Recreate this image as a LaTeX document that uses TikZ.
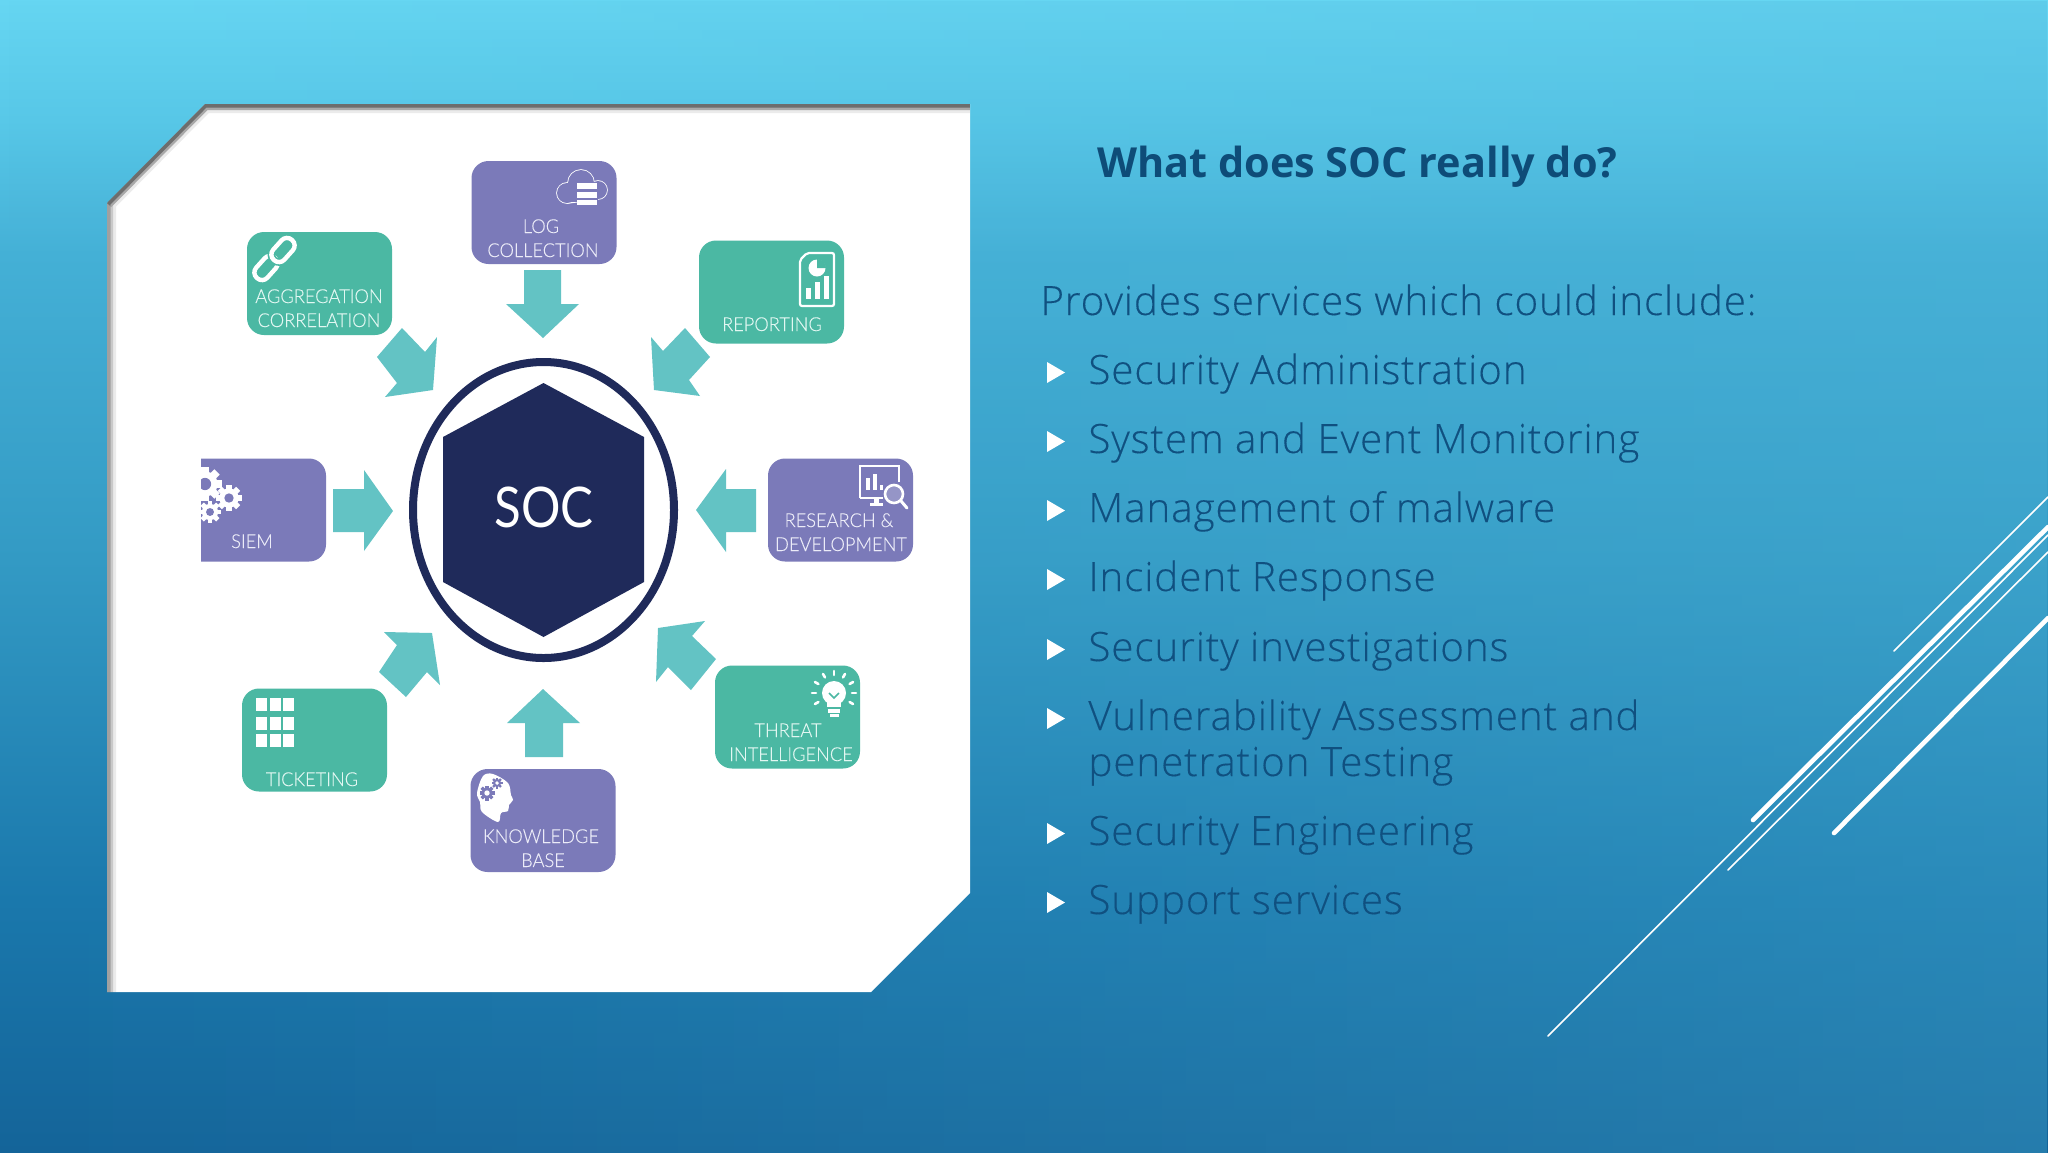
\documentclass[tikz,border=0pt]{standalone}
\usepackage{fontspec}
\usetikzlibrary{calc,fadings}
\newfontfamily\bodyfont{Open Sans Light}[LetterSpace=2.2,FakeBold=0.2]
\newfontfamily\titlefont{Open Sans}
\newfontfamily\labelfont{Lato Light}[FakeStretch=0.95,FakeBold=0.12]
\newfontfamily\socfont{Lato}[FakeStretch=0.88]
\definecolor{bgA}{HTML}{146499}
\definecolor{bgB}{HTML}{1A78AC}
\definecolor{bgC}{HTML}{339AC4}
\definecolor{bgD}{HTML}{44B0D6}
\definecolor{bgF}{HTML}{58C8E8}
\definecolor{bgE}{HTML}{66D6F2}
\definecolor{bgLight}{HTML}{4FB5DA}
\definecolor{purpleBox}{RGB}{123,122,185}
\definecolor{tealBox}{RGB}{75,184,163}
\definecolor{arrowTeal}{RGB}{99,195,196}
\definecolor{navy}{RGB}{31,42,90}
\definecolor{titleInk}{RGB}{14,76,120}
\definecolor{bodyInk}{RGB}{16,80,128}
\definecolor{lblP}{RGB}{236,236,248}
\definecolor{lblT}{RGB}{226,247,242}
\pgfdeclareverticalshading{slidebg}{100bp}{color(0bp)=(bgA); color(25bp)=(bgA); color(35.9bp)=(bgB); color(50.7bp)=(bgC); color(64bp)=(bgD); color(69.8bp)=(bgF); color(75bp)=(bgE); color(100bp)=(bgE)}
\tikzset{
  panel/.style={rectangle,rounded corners=8.5pt,minimum width=72.5pt,minimum height=51.5pt,inner sep=0pt,draw=none},
  pbox/.style={panel,fill=purpleBox},
  tbox/.style={panel,fill=tealBox},
  lbl/.style={anchor=base,inner sep=0pt,font=\labelfont\fontsize{9.6}{11}\selectfont},
  lblp/.style={lbl,text=lblP},
  lblt/.style={lbl,text=lblT},
  blockarrow/.style={fill=arrowTeal,draw=none},
  bodyline/.style={anchor=base west,inner sep=0pt,text=bodyInk,font=\bodyfont\fontsize{20.2}{24}\selectfont},
  bulletmark/.style={fill=white,draw=none},
  rule/.style={draw=white,line cap=round},
  innershadow/.style={draw=black},
}
\newcommand{\gearicon}[5]{%
  \foreach \a in {0,45,...,315}{\fill[#4,shift={(#1,#2)},rotate=\a] (-0.22*#3,0) rectangle (0.22*#3,#3);}
  \fill[#4] (#1,#2) circle ({0.74*#3});
  \fill[#5] (#1,#2) circle ({0.36*#3});
}
\begin{document}
\begin{tikzpicture}[x=0.5pt,y=-0.5pt]
\useasboundingbox (0,0) rectangle (2048,1152);
\shade[shading=slidebg] (0,0) rectangle (2048,1152);
\fill[bgLight,opacity=.30,path fading=west] (0,0) rectangle (2048,1152);

% decorative rules
\draw[rule,line width=2.3pt] (1753,820) -- (2048,527);
\draw[rule,line width=2.3pt] (1834,833) -- (2048,618);
\draw[rule,line width=0.8pt] (1894,651) -- (2048,497);
\draw[rule,line width=0.8pt] (1728,870) -- (2048,552);
\draw[rule,line width=0.8pt] (1548,1036) -- (2048,535);

% white panel
\fill[white] (205,104) -- (970,104) -- (970,893) -- (871,992) -- (107,992) -- (107,203) -- cycle;
\begin{scope}
  \clip (205,104) -- (970,104) -- (970,893) -- (871,992) -- (107,992) -- (107,203) -- cycle;
  \draw[innershadow,opacity=.08,line width=9pt] (107,992) -- (107,203) -- (205,104) -- (970,104);
  \draw[innershadow,opacity=.14,line width=6pt] (107,992) -- (107,203) -- (205,104) -- (970,104);
  \draw[innershadow,opacity=.20,line width=3.5pt] (107,992) -- (107,203) -- (205,104) -- (970,104);
  \draw[innershadow,opacity=.16,line width=6pt] (107,203) -- (205,104) -- (970,104);
  \draw[innershadow,opacity=.18,line width=3.5pt] (107,203) -- (205,104) -- (970,104);
\end{scope}

% centre
\draw[navy,line width=4pt] (543.5,510) ellipse [x radius=130.5,y radius=148];
\fill[navy] (543.5,383) -- (644,437) -- (644,582) -- (543.5,637) -- (443,582) -- (443,437) -- cycle;
\node[anchor=base,inner sep=0pt,text=white,font=\socfont\fontsize{28}{30}\selectfont] (soc) at (544,527) {SOC};

% boxes
\node[pbox] (logbox) at (544,212.5) {};
\node[tbox] (aggbox) at (319.5,283.5) {};
\node[tbox] (repbox) at (771.5,292) {};
\node[pbox] (rdbox) at (840.5,510) {};
\node[tbox] (tickbox) at (314.5,740) {};
\node[pbox] (kbbox) at (543,820.5) {};
\node[tbox] (thrbox) at (787.5,717) {};
\begin{scope}
  \clip (201,440) rectangle (340,580);
  \node[pbox] (siembox) at (253.5,510) {};
  \gearicon{205}{484}{17}{white}{purpleBox}
  \gearicon{229}{498}{13}{white}{purpleBox}
  \gearicon{210}{512}{11}{white}{purpleBox}
\end{scope}

% block arrows
\fill[blockarrow] (524,270) -- (561,270) -- (561,304) -- (579,304) -- (543,338) -- (506,304) -- (524,304) -- cycle;
\fill[blockarrow] (333,489) -- (364,489) -- (364,470) -- (393,511) -- (364,551) -- (364,532) -- (333,532) -- cycle;
\fill[blockarrow] (756,489) -- (726,489) -- (726,469) -- (696,510) -- (726,552) -- (726,532) -- (756,532) -- cycle;
\fill[blockarrow] (543,689) -- (580,723) -- (563,723) -- (563,757) -- (525,757) -- (525,723) -- (507,723) -- cycle;
\fill[blockarrow] (402,328) -- (425,352) -- (437,337) -- (433,390) -- (385,397) -- (397,383) -- (377,357) -- cycle;
\fill[blockarrow] (685,328) -- (710,357) -- (689,380) -- (700,396) -- (654,390) -- (651,337) -- (663,351) -- cycle;
\fill[blockarrow] (384,632) -- (432,633) -- (440,685) -- (427,672) -- (406,697) -- (379,672) -- (397,645) -- cycle;
\fill[blockarrow] (658,628) -- (705,621) -- (692,636) -- (716,659) -- (691,690) -- (668,667) -- (656,682) -- cycle;

% chain icon
\draw[white,line width=2.2pt,rounded corners=3.6pt,shift={(266,268)},rotate=48] (-13.5,-7.5) rectangle (13.5,7.5);
\draw[tealBox,line width=3.8pt,rounded corners=3.6pt,shift={(283,250)},rotate=48] (-13.5,-7.5) rectangle (13.5,7.5);
\draw[white,line width=2.2pt,rounded corners=3.6pt,shift={(283,250)},rotate=48] (-13.5,-7.5) rectangle (13.5,7.5);

% cloud icon
\foreach \cx/\cy/\cr in {567/193/10,581/183/13,598/190/9}{\draw[white,line width=.8pt] (\cx,\cy) circle (\cr);}
\draw[white,line width=.8pt] (567,203) -- (598,199);
\foreach \cx/\cy/\cr in {567/193/10,581/183/13,598/190/9}{\fill[purpleBox] (\cx,\cy) circle (\cr);}
\fill[purpleBox] (567,185) rectangle (598,202);
\fill[white] (577,183) rectangle (597,189);
\fill[white] (577,191.5) rectangle (597,197.5);
\fill[white] (577,199.5) rectangle (597,205);

% report icon
\draw[white,line width=1.1pt,rounded corners=1pt] (807,253) -- (834,253) -- (834,306) -- (800,306) -- (800,260) -- cycle;
\fill[white] (817,268) circle (8.5);
\fill[tealBox] (817,268) -- (817,259) arc (-90:0:9) -- cycle;
\fill[white] (806,288) rectangle (811,299);
\fill[white] (815,282) rectangle (820,299);
\fill[white] (824,276) rectangle (829,299);

% research icon
\draw[white,line width=1.2pt] (860,498) -- (860,466) -- (899,466) -- (899,482);
\draw[white,line width=1.2pt] (860,498) -- (883,498);
\fill[white] (866,478) rectangle (869.5,490);
\fill[white] (873,474) rectangle (876.5,490);
\fill[white] (879.5,485) rectangle (882.5,490);
\fill[white] (870,503) rectangle (883,506);
\fill[white] (874,498) rectangle (879,503);
\draw[white,line width=1.3pt,fill=purpleBox!80!white] (894,494) circle (9);
\draw[white,line width=1.5pt,line cap=round] (901,501) -- (907,508);

% ticket grid
\foreach \gx in {256,270,283}{\foreach \gy in {698,717,734}{\fill[white] (\gx,\gy) rectangle ++(11,13);}}

% head icon
\fill[white] plot[smooth cycle,tension=.55] coordinates {(477,793) (483,776) (493,774) (508,783) (511,795) (513,800) (509,805) (508,811) (501,813) (498,822) (482,812) (480,802)};
\gearicon{487}{793}{7.5}{purpleBox}{white}
\gearicon{497}{783}{5.5}{purpleBox}{white}

% bulb icon
\fill[white] (834,693) circle (12);
\fill[white] (827,700) rectangle (841,707);
\fill[white] (828,709) rectangle (840,713);
\fill[white] (830,714) rectangle (839,717);
\draw[tealBox,line width=.8pt] (829,693) -- (834,698) -- (839,693);
\foreach \a in {30,150,180,210,240,270,300,330,360}{\draw[white,line width=1.3pt,line cap=round,shift={(834,693)}] (\a:18) -- (\a:22);}

% box labels
\node[lblp] (t1) at (541,233) {LOG};
\node[lblp] (t2) at (543,257) {COLLECTION};
\node[lblt] (t3) at (319,303) {AGGREGATION};
\node[lblt] (t4) at (319,327) {CORRELATION};
\node[lblt] (t5) at (772,331) {REPORTING};
\node[lblp] (t6) at (252,548) {SIEM};
\node[lblp] (t7) at (839,527) {RESEARCH \&};
\node[lblp] (t8) at (841,551) {DEVELOPMENT};
\node[lblt] (t9) at (312,786) {TICKETING};
\node[lblp] (t10) at (541,843) {KNOWLEDGE};
\node[lblp] (t11) at (543,867) {BASE};
\node[lblt] (t12) at (788,737) {THREAT};
\node[lblt] (t13) at (791,761) {INTELLIGENCE};

% right-hand text
\node[anchor=base west,inner sep=0pt,text=titleInk,font=\titlefont\bfseries\fontsize{20.7}{24}\selectfont] (title) at (1097,177) {What does SOC really do?};
\node[bodyline] (intro) at (1040,315) {Provides services which could include:};
\node[bodyline] (b1) at (1088,384) {Security Administration};
\node[bodyline] (b2) at (1088,453) {System and Event Monitoring};
\node[bodyline] (b3) at (1088,522) {Management of malware};
\node[bodyline] (b4) at (1088,591) {Incident Response};
\node[bodyline] (b5) at (1088,661) {Security investigations};
\node[bodyline] (b6) at (1088,730) {Vulnerability Assessment and};
\node[bodyline] (b6b) at (1088,776) {penetration Testing};
\node[bodyline] (b7) at (1088,845) {Security Engineering};
\node[bodyline] (b8) at (1088,914) {Support services};
\foreach \by in {384,453,522,591,661,730,845,914}{
  \fill[bulletmark] (1047,\by-22) -- (1065,\by-11.5) -- (1047,\by-1) -- cycle;
}
\end{tikzpicture}
\end{document}
